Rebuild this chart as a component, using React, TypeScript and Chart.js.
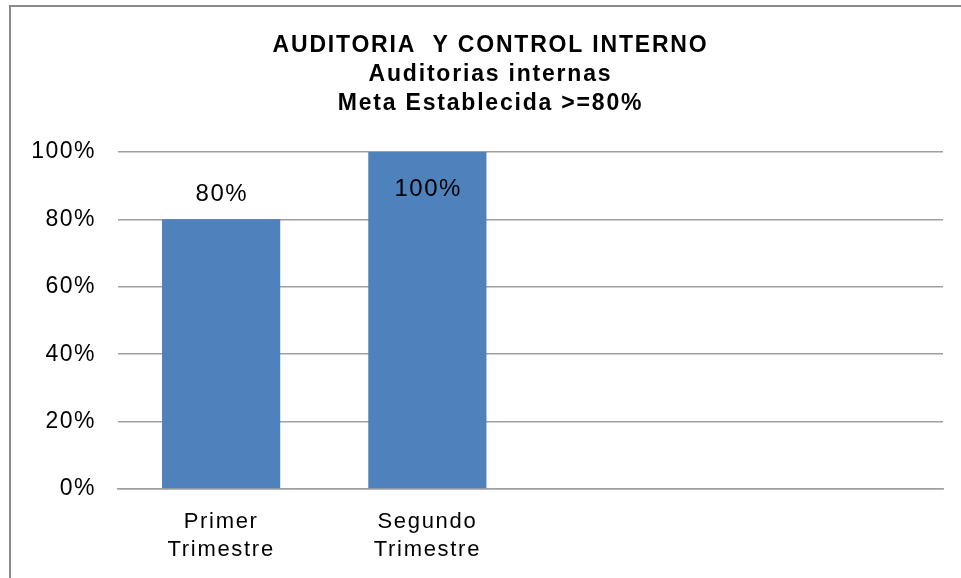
import React, { useEffect, useRef } from "react";
import { Chart, registerables } from "chart.js";

Chart.register(...registerables);

const categories: string[][] = [["Primer", "Trimestre"], ["Segundo", "Trimestre"], [""], [""]];
const values: (number | null)[] = [80, 100, null, null];
const yTicks: number[] = [0, 20, 40, 60, 80, 100];
const titleLines: string[] = ["AUDITORIA  Y CONTROL INTERNO", "Auditorias internas", "Meta Establecida >=80%"];

const FONT = "'Liberation Sans', Arial, sans-serif";

const dataLabelPlugin = {
  id: "dataLabels",
  afterDatasetsDraw(chart: any) {
    const ctx = chart.ctx;
    const meta = chart.getDatasetMeta(0);
    const area = chart.chartArea;
    ctx.save();
    ctx.font = `24px ${FONT}`;
    (ctx as any).letterSpacing = "1.5px";
    ctx.fillStyle = "#000";
    ctx.textAlign = "center";
    ctx.textBaseline = "middle";
    meta.data.forEach((bar: any, i: number) => {
      const v = values[i];
      if (v == null) return;
      let y = bar.y - 25;
      if (y < area.top + 37) y = area.top + 37;
      ctx.fillText(`${v}%`, bar.x + 0.75, y);
    });
    ctx.restore();
  },
};

function wrapDraw(chart: any, obj: any, fn: string, spacing: string, dx = 0) {
  if (!obj || obj["__sp_" + fn]) return;
  const orig = obj[fn].bind(obj);
  obj[fn] = (...args: any[]) => {
    const ctx = chart.ctx;
    ctx.save();
    (ctx as any).letterSpacing = spacing;
    if (dx) ctx.translate(dx, 0);
    orig(...args);
    ctx.restore();
  };
  obj["__sp_" + fn] = true;
}

const spacingPlugin = {
  id: "letterSpacing",
  afterLayout(chart: any) {
    wrapDraw(chart, chart.scales.x, "drawLabels", "1.7px");
    wrapDraw(chart, chart.scales.y, "drawLabels", "1.5px");
    wrapDraw(chart, chart.titleBlock, "draw", "1.8px", 19);
  },
};

export default function App() {
  const ref = useRef<HTMLCanvasElement>(null);
  useEffect(() => {
    document.body.style.margin = "0";
    const chart = new Chart(ref.current!, {
      type: "bar",
      data: {
        labels: categories,
        datasets: [
          {
            data: values,
            backgroundColor: "#4F81BD",
            borderWidth: 0,
            barPercentage: 0.573,
            categoryPercentage: 1,
          },
        ],
      },
      options: {
        animation: false,
        responsive: false,
        layout: { padding: { left: 0, right: 18, top: 0, bottom: 0 } },
        plugins: {
          legend: { display: false },
          tooltip: { enabled: false },
          title: {
            display: true,
            text: titleLines,
            color: "#000",
            font: { family: FONT, size: 23, weight: "bold", lineHeight: 1.26 },
            padding: { top: 31, bottom: 34 },
          },
        },
        scales: {
          x: {
            grid: { display: false, drawTicks: false },
            border: { display: true, color: "#a0a0a0", width: 1.5 },
            ticks: {
              color: "#000",
              font: { family: FONT, size: 22, lineHeight: 1.27 },
              padding: 19,
              maxRotation: 0,
              autoSkip: false,
            },
            afterFit: (s: any) => {
              s.height = 89;
            },
          },
          y: {
            min: 0,
            max: 100,
            afterBuildTicks: (s: any) => {
              s.ticks = yTicks.map((v) => ({ value: v }));
            },
            grid: { color: "#a0a0a0", lineWidth: 1.5, drawTicks: false },
            border: { display: false },
            ticks: {
              color: "#000",
              font: { family: FONT, size: 23 },
              padding: 22,
              callback: (v: any) => `${v}%`,
            },
            afterFit: (s: any) => {
              s.width = 118;
            },
          },
        },
      },
      plugins: [dataLabelPlugin, spacingPlugin],
    });
    return () => chart.destroy();
  }, []);

  return (
    <div style={{ position: "relative", width: 961, height: 578, overflow: "hidden" }}>
      <div
        style={{
          position: "absolute",
          left: 9,
          top: 5,
          width: 980,
          height: 600,
          border: "2px solid #8a8a8a",
          boxSizing: "border-box",
        }}
      />
      <canvas ref={ref} width={961} height={578} style={{ position: "absolute", left: 0, top: 0 }} />
    </div>
  );
}
